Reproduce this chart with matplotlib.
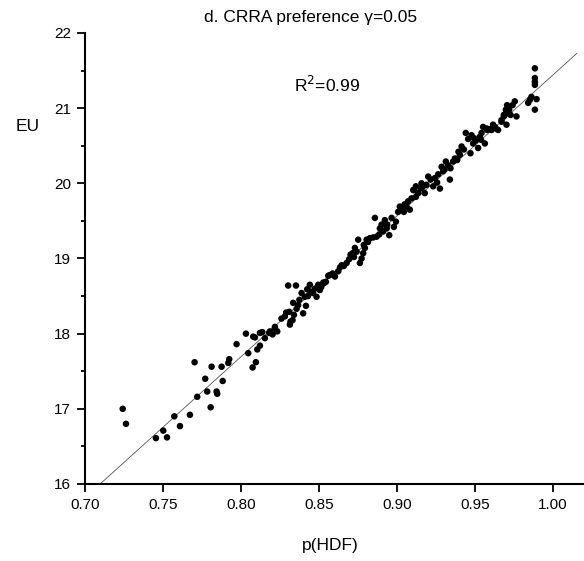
import matplotlib
matplotlib.use("Agg")
import matplotlib.pyplot as plt
from matplotlib.ticker import MultipleLocator

plt.rcParams['font.family'] = ['Liberation Sans', 'DejaVu Sans']

# scatter data: p(HDF) vs EU
p_hdf = [
    0.7242, 0.7263, 0.7455, 0.7502, 0.7526, 0.7573, 0.7609, 0.7673, 0.7703, 0.7720,
    0.7771, 0.7784, 0.7806, 0.7812, 0.7844, 0.7848, 0.7876, 0.7883, 0.7919, 0.7925,
    0.7972, 0.8032, 0.8047, 0.8075, 0.8079, 0.8090, 0.8096, 0.8105, 0.8122, 0.8122,
    0.8137, 0.8154, 0.8181, 0.8203, 0.8218, 0.8233, 0.8186, 0.8218, 0.8282, 0.8303,
    0.8314, 0.8318, 0.8310, 0.8331, 0.8335, 0.8340, 0.8353, 0.8357, 0.8367, 0.8389,
    0.8399, 0.8417, 0.8410, 0.8425, 0.8442, 0.8446, 0.8463, 0.8485, 0.8496, 0.8506,
    0.8532, 0.8545, 0.8560, 0.8528, 0.8571, 0.8588, 0.8603, 0.8624, 0.8646, 0.8678,
    0.8694, 0.8703, 0.8716, 0.8731, 0.8742, 0.8752, 0.8763, 0.8774, 0.8784, 0.8788,
    0.8795, 0.8806, 0.8827, 0.8848, 0.8859, 0.8870, 0.8887, 0.8891, 0.8902, 0.8912,
    0.8923, 0.8938, 0.8951, 0.8966, 0.8981, 0.8994, 0.9008, 0.9019, 0.9030, 0.9045,
    0.9062, 0.9072, 0.9083, 0.9094, 0.9109, 0.9122, 0.9105, 0.9122, 0.9137, 0.9152,
    0.9158, 0.9179, 0.9201, 0.9216, 0.9233, 0.9244, 0.9258, 0.9276, 0.9287, 0.9297,
    0.9314, 0.9329, 0.9340, 0.9344, 0.9361, 0.9372, 0.9387, 0.9404, 0.9415, 0.9442,
    0.9457, 0.9472, 0.9479, 0.9489, 0.9506, 0.9521, 0.9532, 0.9543, 0.9553, 0.9564,
    0.9579, 0.9596, 0.9617, 0.9635, 0.9649, 0.9671, 0.9686, 0.9699, 0.9703, 0.9707,
    0.9575, 0.9607, 0.9628, 0.9671, 0.9686, 0.9699, 0.9720, 0.9729, 0.9742, 0.9756,
    0.9767, 0.9842, 0.9853, 0.9863, 0.9885, 0.9885, 0.9885, 0.9885, 0.9896, 0.9885,
    0.8260, 0.8290, 0.8375, 0.8430, 0.8475, 0.8515, 0.8635, 0.8660, 0.8725, 0.8815,
    0.8935, 0.9050, 0.9165, 0.9190, 0.9265, 0.9305, 0.9395, 0.9430, 0.9495, 0.9540,
]
eu = [
    17.00, 16.80, 16.61, 16.71, 16.62, 16.90, 16.77, 16.92, 17.62, 17.16,
    17.40, 17.23, 17.02, 17.56, 17.23, 17.20, 17.56, 17.37, 17.61, 17.66,
    17.86, 18.00, 17.74, 17.55, 17.96, 17.95, 17.62, 17.79, 17.84, 18.01,
    18.02, 17.94, 18.01, 17.99, 18.07, 18.03, 18.03, 18.09, 18.23, 18.64,
    18.12, 18.16, 18.29, 18.18, 18.41, 18.25, 18.64, 18.33, 18.38, 18.54,
    18.27, 18.37, 18.49, 18.59, 18.65, 18.56, 18.54, 18.49, 18.65, 18.58,
    18.67, 18.69, 18.77, 18.68, 18.78, 18.80, 18.76, 18.83, 18.91, 18.94,
    18.99, 19.05, 19.07, 19.14, 19.09, 19.25, 18.94, 19.00, 19.07, 19.18,
    19.14, 19.25, 19.27, 19.28, 19.54, 19.29, 19.32, 19.40, 19.45, 19.36,
    19.51, 19.45, 19.31, 19.54, 19.42, 19.49, 19.62, 19.69, 19.65, 19.62,
    19.69, 19.76, 19.65, 19.80, 19.91, 19.96, 19.91, 19.82, 19.87, 19.93,
    20.00, 19.87, 20.09, 20.05, 19.96, 20.07, 20.01, 19.93, 20.22, 20.16,
    20.29, 20.24, 20.05, 20.20, 20.29, 20.33, 20.31, 20.38, 20.49, 20.67,
    20.59, 20.40, 20.64, 20.53, 20.57, 20.47, 20.62, 20.67, 20.75, 20.53,
    20.71, 20.72, 20.78, 20.73, 20.71, 20.84, 20.91, 20.98, 20.78, 21.04,
    20.73, 20.71, 20.75, 20.82, 20.89, 20.93, 20.98, 20.91, 21.04, 21.09,
    20.89, 21.07, 21.11, 21.15, 21.53, 21.40, 21.35, 21.31, 21.12, 20.98,
    18.20, 18.28, 18.45, 18.50, 18.60, 18.62, 18.88, 18.90, 19.02, 19.22,
    19.40, 19.72, 19.95, 19.98, 20.12, 20.18, 20.42, 20.45, 20.60, 20.58,
]

# fitted regression line
fit_intercept = 2.70
fit_slope = 18.74
fit_x = [0.7096, 1.0154]
fit_y = [fit_intercept + fit_slope * v for v in fit_x]

x_ticks = [0.70, 0.75, 0.80, 0.85, 0.90, 0.95, 1.00]
x_labels = ["0.70", "0.75", "0.80", "0.85", "0.90", "0.95", "1.00"]
y_ticks = [16, 17, 18, 19, 20, 21, 22]
y_labels = ["16", "17", "18", "19", "20", "21", "22"]

fig = plt.figure(figsize=(5.84, 5.61), dpi=100)
ax = fig.add_axes([0.1455, 0.1373, 0.8545, 0.8039])

ax.plot(fit_x, fit_y, color='#555555', linewidth=0.6, zorder=1)
ax.scatter(p_hdf, eu, s=22, color='black', edgecolors='none', zorder=2)

ax.set_xlim(0.70, 1.02)
ax.set_ylim(16, 22)
ax.set_xticks(x_ticks)
ax.set_xticklabels(x_labels)
ax.set_yticks(y_ticks)
ax.set_yticklabels(y_labels)
ax.yaxis.set_minor_locator(MultipleLocator(0.5))

for s in ['top', 'right']:
    ax.spines[s].set_visible(False)
for s in ['left', 'bottom']:
    ax.spines[s].set_linewidth(1.5)

ax.tick_params(axis='both', which='major', direction='out', length=6, width=1.3,
               labelsize=11, pad=4)
ax.tick_params(axis='y', which='minor', direction='out', length=3, width=1.3)

fig.text(0.531, 0.968, "d. CRRA preference γ=0.05", ha='center', va='center', fontsize=12.5)
ax.text(0.855, 21.31, "R$^2$=0.99", ha='center', va='center', fontsize=12.5)
fig.text(0.048, 0.774, "EU", ha='center', va='center', fontsize=12.5)
fig.text(0.565, 0.028, "p(HDF)", ha='center', va='center', fontsize=12.5)

fig.savefig("out.png", dpi=100)
